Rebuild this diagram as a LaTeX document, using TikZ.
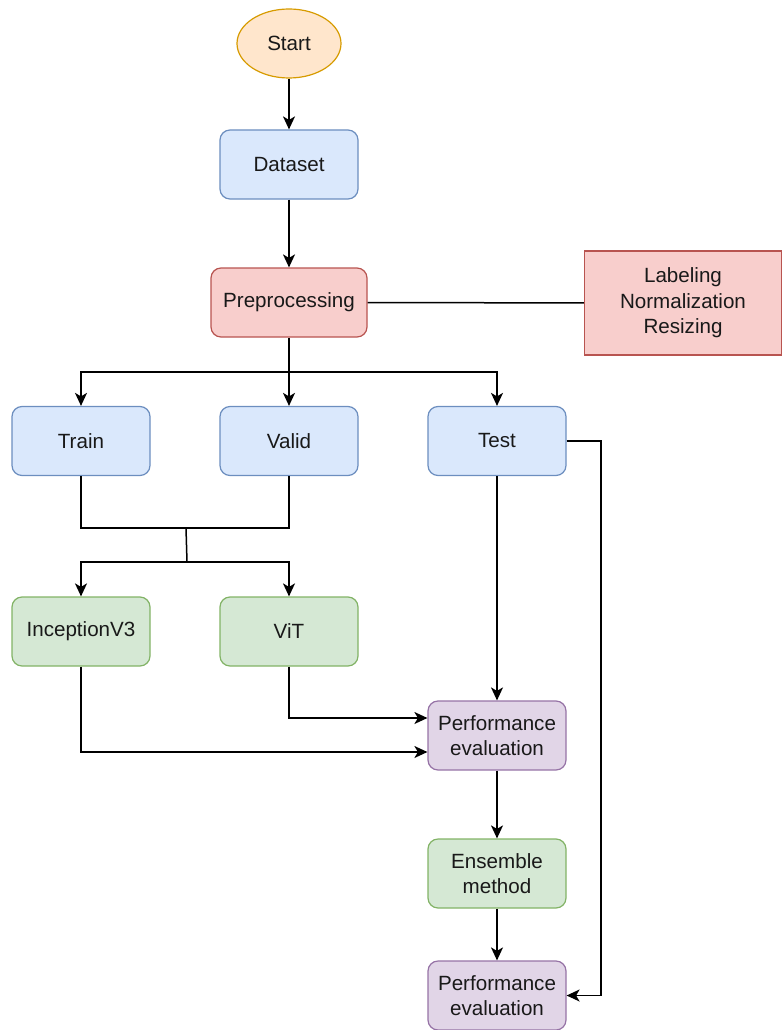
\documentclass[tikz,border=0pt]{standalone}
\usepackage{fontspec}
\setmainfont{Liberation Sans}
\usetikzlibrary{arrows.meta,shapes,positioning}

\definecolor{flowblue}{HTML}{DAE8FC}
\definecolor{flowblueline}{HTML}{6C8EBF}
\definecolor{flowred}{HTML}{F8CECC}
\definecolor{flowredline}{HTML}{B85450}
\definecolor{flowgreen}{HTML}{D5E8D4}
\definecolor{flowgreenline}{HTML}{82B366}
\definecolor{flowpurple}{HTML}{E1D5E7}
\definecolor{flowpurpleline}{HTML}{9673A6}
\definecolor{floworange}{HTML}{FFE6CC}
\definecolor{floworangeline}{HTML}{D79B00}

\begin{document}
\begin{tikzpicture}[
      x=1pt, y=-1pt,%
      line width=1.5pt,%
      every node/.style={font=\fontsize{20.6}{25.5}\selectfont, align=center, text=black!90},%
      box/.style={draw, rounded corners=10pt, minimum width=138pt, minimum height=69pt, line width=1.2pt},%
      bluebox/.style={box, fill=flowblue, draw=flowblueline},%
      redbox/.style={box, fill=flowred, draw=flowredline},%
      greenbox/.style={box, fill=flowgreen, draw=flowgreenline},%
      purplebox/.style={box, fill=flowpurple, draw=flowpurpleline},%
      link/.style={-{Stealth[length=13pt,width=12pt,inset=3.5pt]}}%
    ]
    \useasboundingbox (0,0) rectangle (782,1030);

    %% Top of the flow
    \node[ellipse, draw=floworangeline, fill=floworange, line width=1.2pt,
          minimum width=104pt, minimum height=69pt] (start) at (289,43.5) {Start};
    \node[bluebox] (dataset) at (289,164.5) {Dataset};
    \node[redbox, minimum width=156pt] (prep) at (289,302.5) {Preprocessing};
    \node[redbox, rounded corners=0pt, minimum width=197pt, minimum height=104pt]
          (steps) at (683,303) {Labeling\\Normalization\\Resizing};

    %% Data split
    \node[bluebox] (train) at (81,441) {Train};
    \node[bluebox] (valid) at (289,441) {Valid};
    \node[bluebox] (test)  at (497,441) {Test};

    %% Models
    \node[greenbox] (incep) at (81,631.5) {InceptionV3};
    \node[greenbox] (vit)   at (289,631.5) {ViT};

    %% Evaluation
    \node[purplebox] (evala) at (497,735.5) {Performance\\evaluation};
    \node[greenbox] (ensemble) at (497,873.5) {Ensemble\\method};
    \node[purplebox] (evalb) at (497,995.5) {Performance\\evaluation};

    \coordinate (split) at (289,372);
    \coordinate (tvjoin) at (186,528);
    \coordinate (mjoin) at (187,562);
    \coordinate (testturn) at (601,441);

    \draw[link] (start) -- (dataset);
    \draw[link] (dataset) -- (prep);
    \draw (prep) -- (steps);

    \draw (prep) -- (split);
    \draw[link] (split) -| (train);
    \draw[link] (split) -- (valid);
    \draw[link] (split) -| (test);

    \draw (train) |- (tvjoin) -| (valid);
    \draw (tvjoin) -- (mjoin);
    \draw[link] (mjoin) -| (incep);
    \draw[link] (mjoin) -| (vit);

    \draw[link] (test) -- (evala);
    \draw[link] (vit) |- ([yshift=17.5pt]evala.west);
    \draw[link] (incep) |- ([yshift=-16.5pt]evala.west);
    \draw[link] (evala) -- (ensemble);
    \draw[link] (ensemble) -- (evalb);
    \draw[link] (test.east) -- (testturn) |- (evalb.east);
  \end{tikzpicture}
\end{document}
